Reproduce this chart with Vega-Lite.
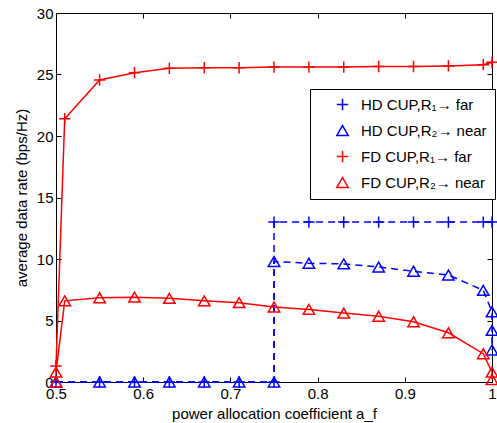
{
  "$schema": "https://vega.github.io/schema/vega-lite/v6.json",
  "width": 436,
  "height": 369,
  "autosize": {"type": "none"},
  "padding": {"left": 56, "top": 13, "right": 5, "bottom": 41},
  "background": "white",
  "config": {
    "font": "Liberation Sans",
    "view": {"stroke": "black", "strokeWidth": 1},
    "axis": {
      "grid": false,
      "domainColor": "black",
      "tickColor": "black",
      "labelColor": "black",
      "titleColor": "black",
      "labelFont": "Liberation Sans",
      "titleFont": "Liberation Sans",
      "labelFontSize": 15,
      "titleFontSize": 15,
      "titleFontWeight": "normal",
      "tickSize": -5
    },
    "legend": {
      "title": null,
      "orient": "none",
      "legendX": 254,
      "legendY": 76,
      "fillColor": "white",
      "strokeColor": "black",
      "padding": 8,
      "labelFont": "Liberation Sans",
      "labelFontSize": 15,
      "labelColor": "black",
      "symbolSize": 130,
      "symbolStrokeWidth": 1.5,
      "symbolOffset": 17,
      "rowPadding": 8,
      "labelOffset": 11
    }
  },
  "data": {
    "values": [
      {"s": "HD CUP,R₁→ far", "i": 1, "x": 0.5, "y": 0},
      {"s": "HD CUP,R₁→ far", "i": 2, "x": 0.55, "y": 0},
      {"s": "HD CUP,R₁→ far", "i": 3, "x": 0.59, "y": 0},
      {"s": "HD CUP,R₁→ far", "i": 4, "x": 0.63, "y": 0},
      {"s": "HD CUP,R₁→ far", "i": 5, "x": 0.67, "y": 0},
      {"s": "HD CUP,R₁→ far", "i": 6, "x": 0.71, "y": 0},
      {"s": "HD CUP,R₁→ far", "i": 7, "x": 0.75, "y": 0},
      {"s": "HD CUP,R₁→ far", "i": 8, "x": 0.75, "y": 13},
      {"s": "HD CUP,R₁→ far", "i": 9, "x": 0.79, "y": 13},
      {"s": "HD CUP,R₁→ far", "i": 10, "x": 0.83, "y": 13},
      {"s": "HD CUP,R₁→ far", "i": 11, "x": 0.87, "y": 13},
      {"s": "HD CUP,R₁→ far", "i": 12, "x": 0.91, "y": 13},
      {"s": "HD CUP,R₁→ far", "i": 13, "x": 0.95, "y": 13},
      {"s": "HD CUP,R₁→ far", "i": 14, "x": 0.99, "y": 13},
      {"s": "HD CUP,R₁→ far", "i": 15, "x": 1.0, "y": 13},

      {"s": "HD CUP,R₂→ near", "i": 1, "x": 0.5, "y": 0},
      {"s": "HD CUP,R₂→ near", "i": 2, "x": 0.55, "y": 0},
      {"s": "HD CUP,R₂→ near", "i": 3, "x": 0.59, "y": 0},
      {"s": "HD CUP,R₂→ near", "i": 4, "x": 0.63, "y": 0},
      {"s": "HD CUP,R₂→ near", "i": 5, "x": 0.67, "y": 0},
      {"s": "HD CUP,R₂→ near", "i": 6, "x": 0.71, "y": 0},
      {"s": "HD CUP,R₂→ near", "i": 7, "x": 0.75, "y": 0},
      {"s": "HD CUP,R₂→ near", "i": 8, "x": 0.75, "y": 9.8},
      {"s": "HD CUP,R₂→ near", "i": 9, "x": 0.79, "y": 9.65},
      {"s": "HD CUP,R₂→ near", "i": 10, "x": 0.83, "y": 9.6},
      {"s": "HD CUP,R₂→ near", "i": 11, "x": 0.87, "y": 9.35},
      {"s": "HD CUP,R₂→ near", "i": 12, "x": 0.91, "y": 9.0},
      {"s": "HD CUP,R₂→ near", "i": 13, "x": 0.95, "y": 8.7},
      {"s": "HD CUP,R₂→ near", "i": 14, "x": 0.99, "y": 7.45},
      {"s": "HD CUP,R₂→ near", "i": 15, "x": 1.0, "y": 5.7},
      {"s": "HD CUP,R₂→ near", "i": 16, "x": 1.0, "y": 4.2},
      {"s": "HD CUP,R₂→ near", "i": 17, "x": 1.0, "y": 2.6},

      {"s": "FD CUP,R₁→ far", "i": 1, "x": 0.5, "y": 1.3},
      {"s": "FD CUP,R₁→ far", "i": 2, "x": 0.51, "y": 21.4},
      {"s": "FD CUP,R₁→ far", "i": 3, "x": 0.55, "y": 24.55},
      {"s": "FD CUP,R₁→ far", "i": 4, "x": 0.59, "y": 25.15},
      {"s": "FD CUP,R₁→ far", "i": 5, "x": 0.63, "y": 25.5},
      {"s": "FD CUP,R₁→ far", "i": 6, "x": 0.67, "y": 25.55},
      {"s": "FD CUP,R₁→ far", "i": 7, "x": 0.71, "y": 25.55},
      {"s": "FD CUP,R₁→ far", "i": 8, "x": 0.75, "y": 25.6},
      {"s": "FD CUP,R₁→ far", "i": 9, "x": 0.79, "y": 25.6},
      {"s": "FD CUP,R₁→ far", "i": 10, "x": 0.83, "y": 25.6},
      {"s": "FD CUP,R₁→ far", "i": 11, "x": 0.87, "y": 25.65},
      {"s": "FD CUP,R₁→ far", "i": 12, "x": 0.91, "y": 25.65},
      {"s": "FD CUP,R₁→ far", "i": 13, "x": 0.95, "y": 25.7},
      {"s": "FD CUP,R₁→ far", "i": 14, "x": 0.99, "y": 25.8},
      {"s": "FD CUP,R₁→ far", "i": 15, "x": 1.0, "y": 26.0},

      {"s": "FD CUP,R₂→ near", "i": 1, "x": 0.5, "y": 0},
      {"s": "FD CUP,R₂→ near", "i": 2, "x": 0.5, "y": 0.8},
      {"s": "FD CUP,R₂→ near", "i": 3, "x": 0.51, "y": 6.6},
      {"s": "FD CUP,R₂→ near", "i": 4, "x": 0.55, "y": 6.85},
      {"s": "FD CUP,R₂→ near", "i": 5, "x": 0.59, "y": 6.9},
      {"s": "FD CUP,R₂→ near", "i": 6, "x": 0.63, "y": 6.8},
      {"s": "FD CUP,R₂→ near", "i": 7, "x": 0.67, "y": 6.6},
      {"s": "FD CUP,R₂→ near", "i": 8, "x": 0.71, "y": 6.45},
      {"s": "FD CUP,R₂→ near", "i": 9, "x": 0.75, "y": 6.1},
      {"s": "FD CUP,R₂→ near", "i": 10, "x": 0.79, "y": 5.9},
      {"s": "FD CUP,R₂→ near", "i": 11, "x": 0.83, "y": 5.6},
      {"s": "FD CUP,R₂→ near", "i": 12, "x": 0.87, "y": 5.35},
      {"s": "FD CUP,R₂→ near", "i": 13, "x": 0.91, "y": 4.9},
      {"s": "FD CUP,R₂→ near", "i": 14, "x": 0.95, "y": 4.0},
      {"s": "FD CUP,R₂→ near", "i": 15, "x": 0.99, "y": 2.3},
      {"s": "FD CUP,R₂→ near", "i": 16, "x": 1.0, "y": 0.8},
      {"s": "FD CUP,R₂→ near", "i": 17, "x": 1.0, "y": 0.2}
    ]
  },
  "layer": [
    {
      "transform": [{"filter": "indexof(datum.s, 'HD') === 0"}],
      "mark": {"type": "line", "strokeWidth": 1.5, "strokeDash": [7, 5], "clip": false},
      "encoding": {
        "x": {
          "field": "x", "type": "quantitative",
          "scale": {"domain": [0.5, 1], "nice": false, "zero": false},
          "axis": {"orient": "bottom", "values": [0.5, 0.6, 0.7, 0.8, 0.9, 1], "format": "~g", "labelPadding": 9, "title": "power allocation coefficient a_f", "titlePadding": 5, "labelFlush": false}
        },
        "y": {
          "field": "y", "type": "quantitative",
          "scale": {"domain": [0, 30], "nice": false},
          "axis": {"orient": "left", "values": [0, 5, 10, 15, 20, 25, 30], "labelPadding": 8, "title": "average data rate (bps/Hz)", "titlePadding": 7, "labelFlush": false}
        },
        "order": {"field": "i", "type": "quantitative"},
        "detail": {"field": "s", "type": "nominal"},
        "color": {
          "field": "s", "type": "nominal",
          "scale": {"domain": ["HD CUP,R₁→ far", "HD CUP,R₂→ near", "FD CUP,R₁→ far", "FD CUP,R₂→ near"], "range": ["#0000ff", "#0000ff", "#ff0000", "#ff0000"]}
        }
      }
    },
    {
      "transform": [{"filter": "indexof(datum.s, 'FD') === 0"}],
      "mark": {"type": "line", "strokeWidth": 1.5, "clip": false},
      "encoding": {
        "x": {"field": "x", "type": "quantitative", "axis": null},
        "y": {"field": "y", "type": "quantitative", "axis": null},
        "order": {"field": "i", "type": "quantitative"},
        "detail": {"field": "s", "type": "nominal"},
        "color": {"field": "s", "type": "nominal"}
      }
    },
    {
      "mark": {"type": "point", "filled": false, "strokeWidth": 1.5, "size": 130, "opacity": 1, "clip": false},
      "encoding": {
        "x": {
          "field": "x", "type": "quantitative",
          "axis": {"orient": "top", "values": [0.5, 0.6, 0.7, 0.8, 0.9, 1], "labels": false, "title": null}
        },
        "y": {
          "field": "y", "type": "quantitative",
          "axis": {"orient": "right", "values": [0, 5, 10, 15, 20, 25, 30], "labels": false, "title": null}
        },
        "color": {"field": "s", "type": "nominal"},
        "shape": {
          "field": "s", "type": "nominal",
          "scale": {"domain": ["HD CUP,R₁→ far", "HD CUP,R₂→ near", "FD CUP,R₁→ far", "FD CUP,R₂→ near"], "range": ["M-1,0H1M0,-1V1", "triangle-up", "M-1,0H1M0,-1V1", "triangle-up"]}
        }
      }
    }
  ],
  "resolve": {"axis": {"x": "independent", "y": "independent"}}
}
